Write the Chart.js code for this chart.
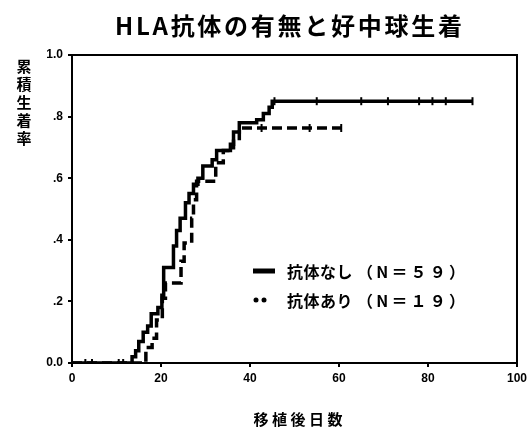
<!DOCTYPE html>
<html>
<head>
<meta charset="utf-8">
<script src="https://cdn.jsdelivr.net/npm/chart.js@4/dist/chart.umd.min.js"></script>
<style>
  html, body { margin: 0; padding: 0; background: #fff; }
  #wrap { width: 531px; height: 430px; }
</style>
</head>
<body>
<div id="wrap"><canvas id="c" width="531" height="430"></canvas></div>
<script>
// ---- data ----
const chartTitle = "HLA抗体の有無と好中球生着";
const yAxisTitle = "累積生着率";
const xAxisTitle = "移植後日数";
const seriesNames = ["抗体なし", "抗体あり"];
const seriesN = ["（N＝５９）", "（N＝１９）"];

// 抗体なし (N=59): step times (days) and cumulative engraftment
const noAbDays = [0, 13.5, 14.3, 15, 16, 17, 17.8, 19.3, 20.2, 20.6, 22.8, 23.5, 24.3, 25.5, 26.3, 27.3, 28.3, 29.4, 31.5, 32.5, 35.6, 36.3, 37.6, 41.5, 43, 44.3, 45, 90];
const noAbVals = [0, 0.02, 0.04, 0.07, 0.10, 0.12, 0.16, 0.18, 0.22, 0.31, 0.38, 0.43, 0.47, 0.52, 0.55, 0.58, 0.60, 0.64, 0.66, 0.69, 0.71, 0.75, 0.78, 0.79, 0.81, 0.83, 0.85, 0.85];
const noAbCensorDays = [3, 4.5, 10.5, 11.5, 45.5, 55, 65, 71, 78, 81, 84, 90];
const noAbCensorVals = [0, 0, 0, 0, 0.85, 0.85, 0.85, 0.85, 0.85, 0.85, 0.85, 0.85];

// 抗体あり (N=19)
const abDays = [0, 16.6, 18, 19, 20.3, 21, 24.5, 25.2, 26.9, 27.3, 28, 32.3, 34, 36.3, 37.6, 61];
const abVals = [0, 0.05, 0.08, 0.14, 0.21, 0.26, 0.33, 0.39, 0.47, 0.53, 0.59, 0.65, 0.69, 0.72, 0.763, 0.763];
const abCensorDays = [42.6, 53.4, 60.5];
const abCensorVals = [0.763, 0.763, 0.763];

const xTicks = [0, 20, 40, 60, 80, 100];
const yTicks = [0, 0.2, 0.4, 0.6, 0.8, 1.0];
const yTickLabels = ["0.0", ".2", ".4", ".6", ".8", "1.0"];

// ---- build ----
const pts = (xs, ys) => xs.map((x, i) => ({ x: x, y: ys[i] }));
const jpFont = '"Noto Sans CJK JP", "Noto Sans", sans-serif';
const numFont = '"Liberation Sans", Arial, sans-serif';

function drawSpaced(ctx, text, x, y, spacing) {
  let cx = x;
  for (const ch of text) {
    ctx.fillText(ch, cx, y);
    cx += ctx.measureText(ch).width + spacing;
  }
  return cx;
}
function spacedWidth(ctx, text, spacing) {
  let w = 0, n = 0;
  for (const ch of text) { w += ctx.measureText(ch).width; n++; }
  return w + spacing * (n - 1);
}

const decor = {
  id: 'decor',
  afterDraw(chart) {
    const ctx = chart.ctx;
    const a = chart.chartArea;
    ctx.save();
    // frame
    ctx.strokeStyle = '#000';
    ctx.lineWidth = 2;
    ctx.strokeRect(a.left, a.top, a.right - a.left, a.bottom - a.top);

    ctx.fillStyle = '#000';
    ctx.textBaseline = 'middle';
    ctx.textAlign = 'left';

    // title
    ctx.font = 'bold 24px ' + jpFont;
    const tLeft = 115, tRight = 462;
    let nat = 0, n = 0;
    for (const ch of chartTitle) { nat += ctx.measureText(ch).width; n++; }
    const sp = (tRight - tLeft - nat) / (n - 1);
    drawSpaced(ctx, chartTitle, tLeft, 26, sp);

    // y axis title (vertical stacked)
    ctx.font = 'bold 15px ' + jpFont;
    ctx.textAlign = 'center';
    let yy = 66;
    for (const ch of yAxisTitle) { ctx.fillText(ch, 24, yy); yy += 18; }

    // x axis title
    ctx.textAlign = 'left';
    ctx.font = 'bold 15px ' + jpFont;
    const xw = spacedWidth(ctx, xAxisTitle, 3.5);
    drawSpaced(ctx, xAxisTitle, 298 - xw / 2, 419, 3.5);

    // legend
    const lx = 253;
    const rows = [271, 300];
    ctx.lineWidth = 5;
    ctx.lineCap = 'butt';
    ctx.beginPath(); ctx.moveTo(lx, rows[0]); ctx.lineTo(lx + 22, rows[0]); ctx.stroke();
    ctx.beginPath(); ctx.arc(lx + 3, rows[1], 2.5, 0, Math.PI * 2); ctx.fill();
    ctx.beginPath(); ctx.arc(lx + 11, rows[1], 2.5, 0, Math.PI * 2); ctx.fill();
    ctx.font = 'bold 16px ' + jpFont;
    for (let i = 0; i < 2; i++) {
      const endX = drawSpaced(ctx, seriesNames[i], 287, rows[i] + 1, 0.5);
      drawSpaced(ctx, seriesN[i], endX + 4, rows[i] + 1, 3.2);
    }
    ctx.restore();
  }
};

new Chart(document.getElementById('c'), {
  type: 'line',
  data: {
    datasets: [
      { label: seriesNames[0], data: pts(noAbDays, noAbVals), stepped: 'before', borderColor: '#000', borderWidth: 3.5, pointRadius: 0, fill: false, order: 2 },
      { label: seriesNames[1], data: pts(abDays, abVals), stepped: 'before', borderColor: '#000', borderWidth: 3.5, borderDash: [10, 5], pointRadius: 0, fill: false, order: 1 },
      { label: 'c1', data: pts(noAbCensorDays, noAbCensorVals), showLine: false, pointStyle: 'line', rotation: 90, pointRadius: 4, borderColor: '#000', borderWidth: 2, backgroundColor: '#000' },
      { label: 'c2', data: pts(abCensorDays, abCensorVals), showLine: false, pointStyle: 'line', rotation: 90, pointRadius: 4, borderColor: '#000', borderWidth: 2, backgroundColor: '#000' }
    ]
  },
  options: {
    responsive: false,
    animation: false,
    devicePixelRatio: 1,
    layout: { padding: { left: 0, right: 10, top: 55, bottom: 0 } },
    plugins: { legend: { display: false }, tooltip: { enabled: false }, title: { display: false } },
    scales: {
      x: {
        type: 'linear', min: 0, max: 100,
        afterFit(s) { s.height = 67; },
        afterBuildTicks(s) { s.ticks = xTicks.map(v => ({ value: v })); },
        ticks: { color: '#000', font: { family: numFont, size: 12, weight: 'bold' }, padding: 4, maxRotation: 0, autoSkip: false },
        grid: { drawOnChartArea: false, tickLength: 4, color: '#000', lineWidth: 2 },
        border: { color: '#000', width: 2 }
      },
      y: {
        type: 'linear', min: 0, max: 1,
        afterFit(s) { s.width = 72; },
        afterBuildTicks(s) { s.ticks = yTicks.map(v => ({ value: v })); },
        ticks: {
          color: '#000', font: { family: numFont, size: 12, weight: 'bold' }, padding: 5, autoSkip: false,
          callback(v) { const i = yTicks.findIndex(t => Math.abs(t - v) < 1e-6); return i >= 0 ? yTickLabels[i] : ''; }
        },
        grid: { drawOnChartArea: false, tickLength: 4, color: '#000', lineWidth: 2 },
        border: { color: '#000', width: 2 }
      }
    }
  },
  plugins: [decor]
});
</script>
</body>
</html>
